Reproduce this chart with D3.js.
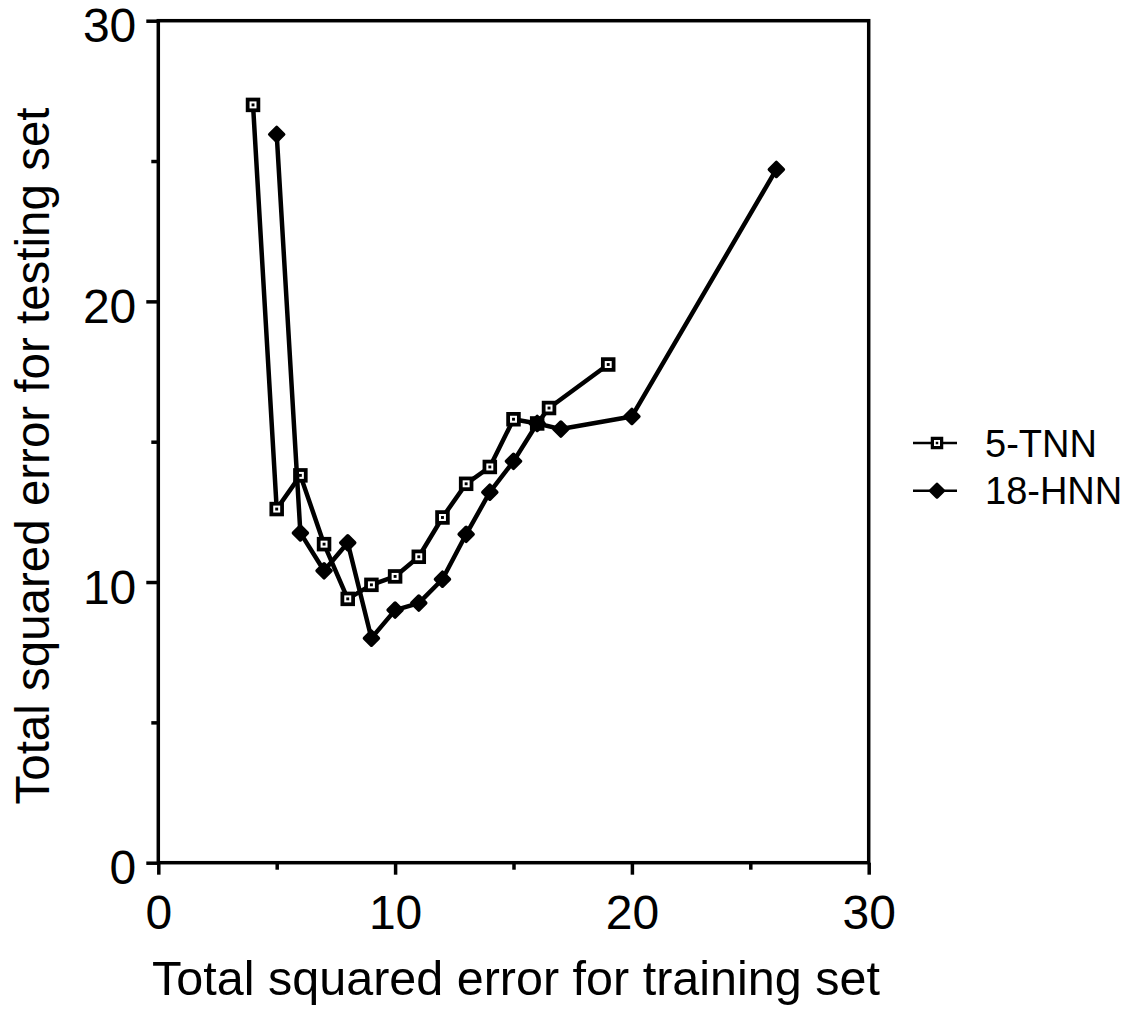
<!DOCTYPE html>
<html>
<head>
<meta charset="utf-8">
<script src="https://cdn.jsdelivr.net/npm/d3@7"></script>
<style>
  html, body { margin: 0; padding: 0; background: #fff; }
  svg { display: block; }
  text { font-family: "Liberation Sans", Arial, Helvetica, sans-serif; fill: #000; }
</style>
</head>
<body>
<svg id="chart" width="1140" height="1018"></svg>
<script>
// ---- data ----
const tnnX = [4, 5, 6, 7, 8, 9, 10, 11, 12, 13, 14, 15, 16, 16.5, 19];
const tnnY = [27.0, 12.6, 13.8, 11.35, 9.4, 9.9, 10.2, 10.9, 12.3, 13.5, 14.1, 15.8, 15.65, 16.2, 17.75];
const hnnX = [5, 6, 7, 8, 9, 10, 11, 12, 13, 14, 15, 16, 17, 20, 26.1];
const hnnY = [25.95, 11.75, 10.4, 11.4, 8.0, 9.0, 9.25, 10.1, 11.7, 13.2, 14.3, 15.65, 15.45, 15.9, 24.7];
const majorTicks = [0, 10, 20, 30];
const minorTicks = [5, 15, 25];
const seriesNames = ["5-TNN", "18-HNN"];
const xTitle = "Total squared error for training set";
const yTitle = "Total squared error for testing set";

const svg = d3.select("#chart");
svg.append("rect").attr("width", 1140).attr("height", 1018).attr("fill", "#fff");

const x = d3.scaleLinear().domain([0, 30]).range([158.3, 868.7]);
const y = d3.scaleLinear().domain([0, 30]).range([862.7, 20.7]);
const AW = 3.5;

// axes
function styleAxis(g) {
  g.select(".domain").remove();
  g.selectAll(".tick line").attr("stroke", "#000").attr("stroke-width", AW);
  g.selectAll(".tick text").style("font-size", "48px").attr("fill", "#000");
}
svg.append("g").attr("transform", `translate(0,${y(0)})`)
  .call(d3.axisBottom(x).tickValues(majorTicks).tickSize(12).tickPadding(20).tickFormat(d3.format("d")))
  .call(styleAxis);
svg.append("g").attr("transform", `translate(0,${y(0)})`)
  .call(d3.axisBottom(x).tickValues(minorTicks).tickSize(7).tickFormat(""))
  .call(styleAxis);
const yAx = svg.append("g").attr("transform", `translate(${x(0)},0)`)
  .call(d3.axisLeft(y).tickValues(majorTicks).tickSize(12).tickPadding(10).tickFormat(d3.format("d")))
  .call(styleAxis);
yAx.selectAll(".tick text").attr("dy", "0.44em");
svg.append("g").attr("transform", `translate(${x(0)},0)`)
  .call(d3.axisLeft(y).tickValues(minorTicks).tickSize(7).tickFormat(""))
  .call(styleAxis);

// frame
svg.append("rect")
  .attr("x", x(0)).attr("y", y(30))
  .attr("width", x(30) - x(0)).attr("height", y(0) - y(30))
  .attr("fill", "none").attr("stroke", "#000").attr("stroke-width", AW);

// titles
svg.append("text").attr("x", 516).attr("y", 995).attr("text-anchor", "middle")
  .style("font-size", "48.5px").text(xTitle);
svg.append("text").attr("transform", "rotate(-90)").attr("x", -456).attr("y", 49)
  .attr("text-anchor", "middle").style("font-size", "47.5px").text(yTitle);

// series
const tnn = tnnX.map((v, i) => [v, tnnY[i]]);
const hnn = hnnX.map((v, i) => [v, hnnY[i]]);
const line = d3.line().x(d => x(d[0])).y(d => y(d[1]));

function drawSquare(g, cx, cy, s) {
  g.append("rect").attr("x", cx - s / 2).attr("y", cy - s / 2).attr("width", s).attr("height", s).attr("fill", "#000");
  const w = s * 0.48;
  g.append("rect").attr("x", cx - w / 2).attr("y", cy - w / 2).attr("width", w).attr("height", w).attr("fill", "#fff");
  const d = s * 0.2;
  g.append("rect").attr("x", cx - d / 2).attr("y", cy - d / 2).attr("width", d).attr("height", d).attr("fill", "#000");
}
function drawDiamond(g, cx, cy, r) {
  g.append("path")
    .attr("d", `M${cx},${cy - r}L${cx + r},${cy}L${cx},${cy + r}L${cx - r},${cy}Z`)
    .attr("fill", "#000").attr("stroke", "#000").attr("stroke-width", 3.5).attr("stroke-linejoin", "round");
}

const gT = svg.append("g");
gT.append("path").datum(tnn).attr("d", line).attr("fill", "none").attr("stroke", "#000")
  .attr("stroke-width", 4.5).attr("stroke-linejoin", "round");
tnn.forEach(d => drawSquare(gT, x(d[0]), y(d[1]), 14.5));

const gH = svg.append("g");
gH.append("path").datum(hnn).attr("d", line).attr("fill", "none").attr("stroke", "#000")
  .attr("stroke-width", 4.5).attr("stroke-linejoin", "round");
hnn.forEach(d => drawDiamond(gH, x(d[0]), y(d[1]), 7));

// legend
const lg = svg.append("g");
const rows = [443, 490.7];
rows.forEach((ry, i) => {
  lg.append("line").attr("x1", 913).attr("x2", 957).attr("y1", ry).attr("y2", ry)
    .attr("stroke", "#000").attr("stroke-width", 2.5);
  if (i === 0) drawSquare(lg, 937, ry, 12.5);
  else drawDiamond(lg, 937, ry, 6.3);
  lg.append("text").attr("x", 985).attr("y", ry + 13.5).style("font-size", "38px").text(seriesNames[i]);
});
</script>
</body>
</html>
